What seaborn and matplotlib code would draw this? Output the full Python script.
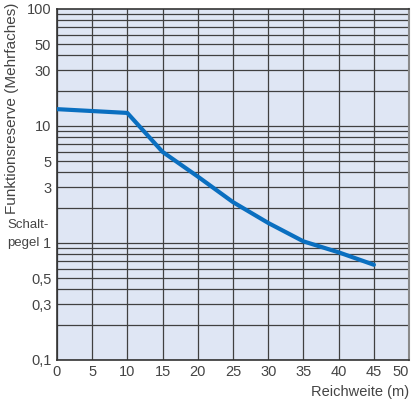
import numpy as np
import pandas as pd
import matplotlib
matplotlib.use("Agg")
import matplotlib.pyplot as plt
import seaborn as sns

# values
reichweite = [0, 10, 15, 20, 25, 30, 35, 40, 45]
funktionsreserve = [13.9, 12.9, 6.0, 3.69, 2.23, 1.48, 1.03, 0.83, 0.65]

y_ticks = [0.1, 0.3, 0.5, 1, 3, 5, 10, 30, 50, 100]
y_tick_labels = ["0,1", "0,3", "0,5", "1", "3", "5", "10", "30", "50", "100"]
x_ticks = [0, 5, 10, 15, 20, 25, 30, 35, 40, 45, 50]

sns.set_style("white")
plt.rcParams['font.family'] = ['Liberation Sans', 'DejaVu Sans']

data = pd.DataFrame({"Reichweite": reichweite, "Reserve": funktionsreserve})

fig = plt.figure(figsize=(4.12, 4.03), dpi=100)
ax = fig.add_axes([0.138, 0.107, 0.855, 0.871])
ax.set_facecolor("#dfe6f4")

ax.set_yscale("log")
ax.set_xlim(0, 50)
ax.set_ylim(0.1, 100)

# grid: every multiple 1..9 of each decade, plus every 5 m
grid_col = "#404040"
for dec in [0.1, 1, 10]:
    for m in range(1, 10):
        ax.axhline(dec * m, color=grid_col, lw=0.9, zorder=1)
for xv in x_ticks:
    ax.axvline(xv, color=grid_col, lw=0.9, zorder=1)

sns.lineplot(data=data, x="Reichweite", y="Reserve", ax=ax,
             color="#0a6fc0", lw=3, zorder=3)

txt_col = "#444444"
fs = 10.5
ax.set_yticks(y_ticks)
ax.set_yticklabels(y_tick_labels)
ax.minorticks_off()
ax.set_xticks(x_ticks)
ax.tick_params(length=0, labelsize=fs, colors=txt_col)
ax.tick_params(axis="x", pad=4)
ax.tick_params(axis="y", pad=4)
ax.get_xticklabels()[-1].set_horizontalalignment("right")
ax.set_xlabel("")
ax.set_ylabel("")

for s in ["left", "bottom", "top"]:
    ax.spines[s].set_color("#333333")
    ax.spines[s].set_linewidth(1.2)
ax.spines["right"].set_color("#8a8a8a")
ax.spines["right"].set_linewidth(1.5)

fig.text(0.03, 0.73, "Funktionsreserve (Mehrfaches)", rotation=90,
         ha="center", va="center", fontsize=11, color=txt_col)
# "Schalt-pegel" split over two lines next to the 1 tick
fig.text(0.018, 1 - 225 / 403, "Schalt-", ha="left", va="center",
         fontsize=9.5, color=txt_col)
fig.text(0.018, 1 - 243 / 403, "pegel", ha="left", va="center",
         fontsize=9.5, color=txt_col)
fig.text(0.993, 0.027, "Reichweite (m)", ha="right", va="center",
         fontsize=fs, color=txt_col)

fig.savefig("out.png", dpi=100)
